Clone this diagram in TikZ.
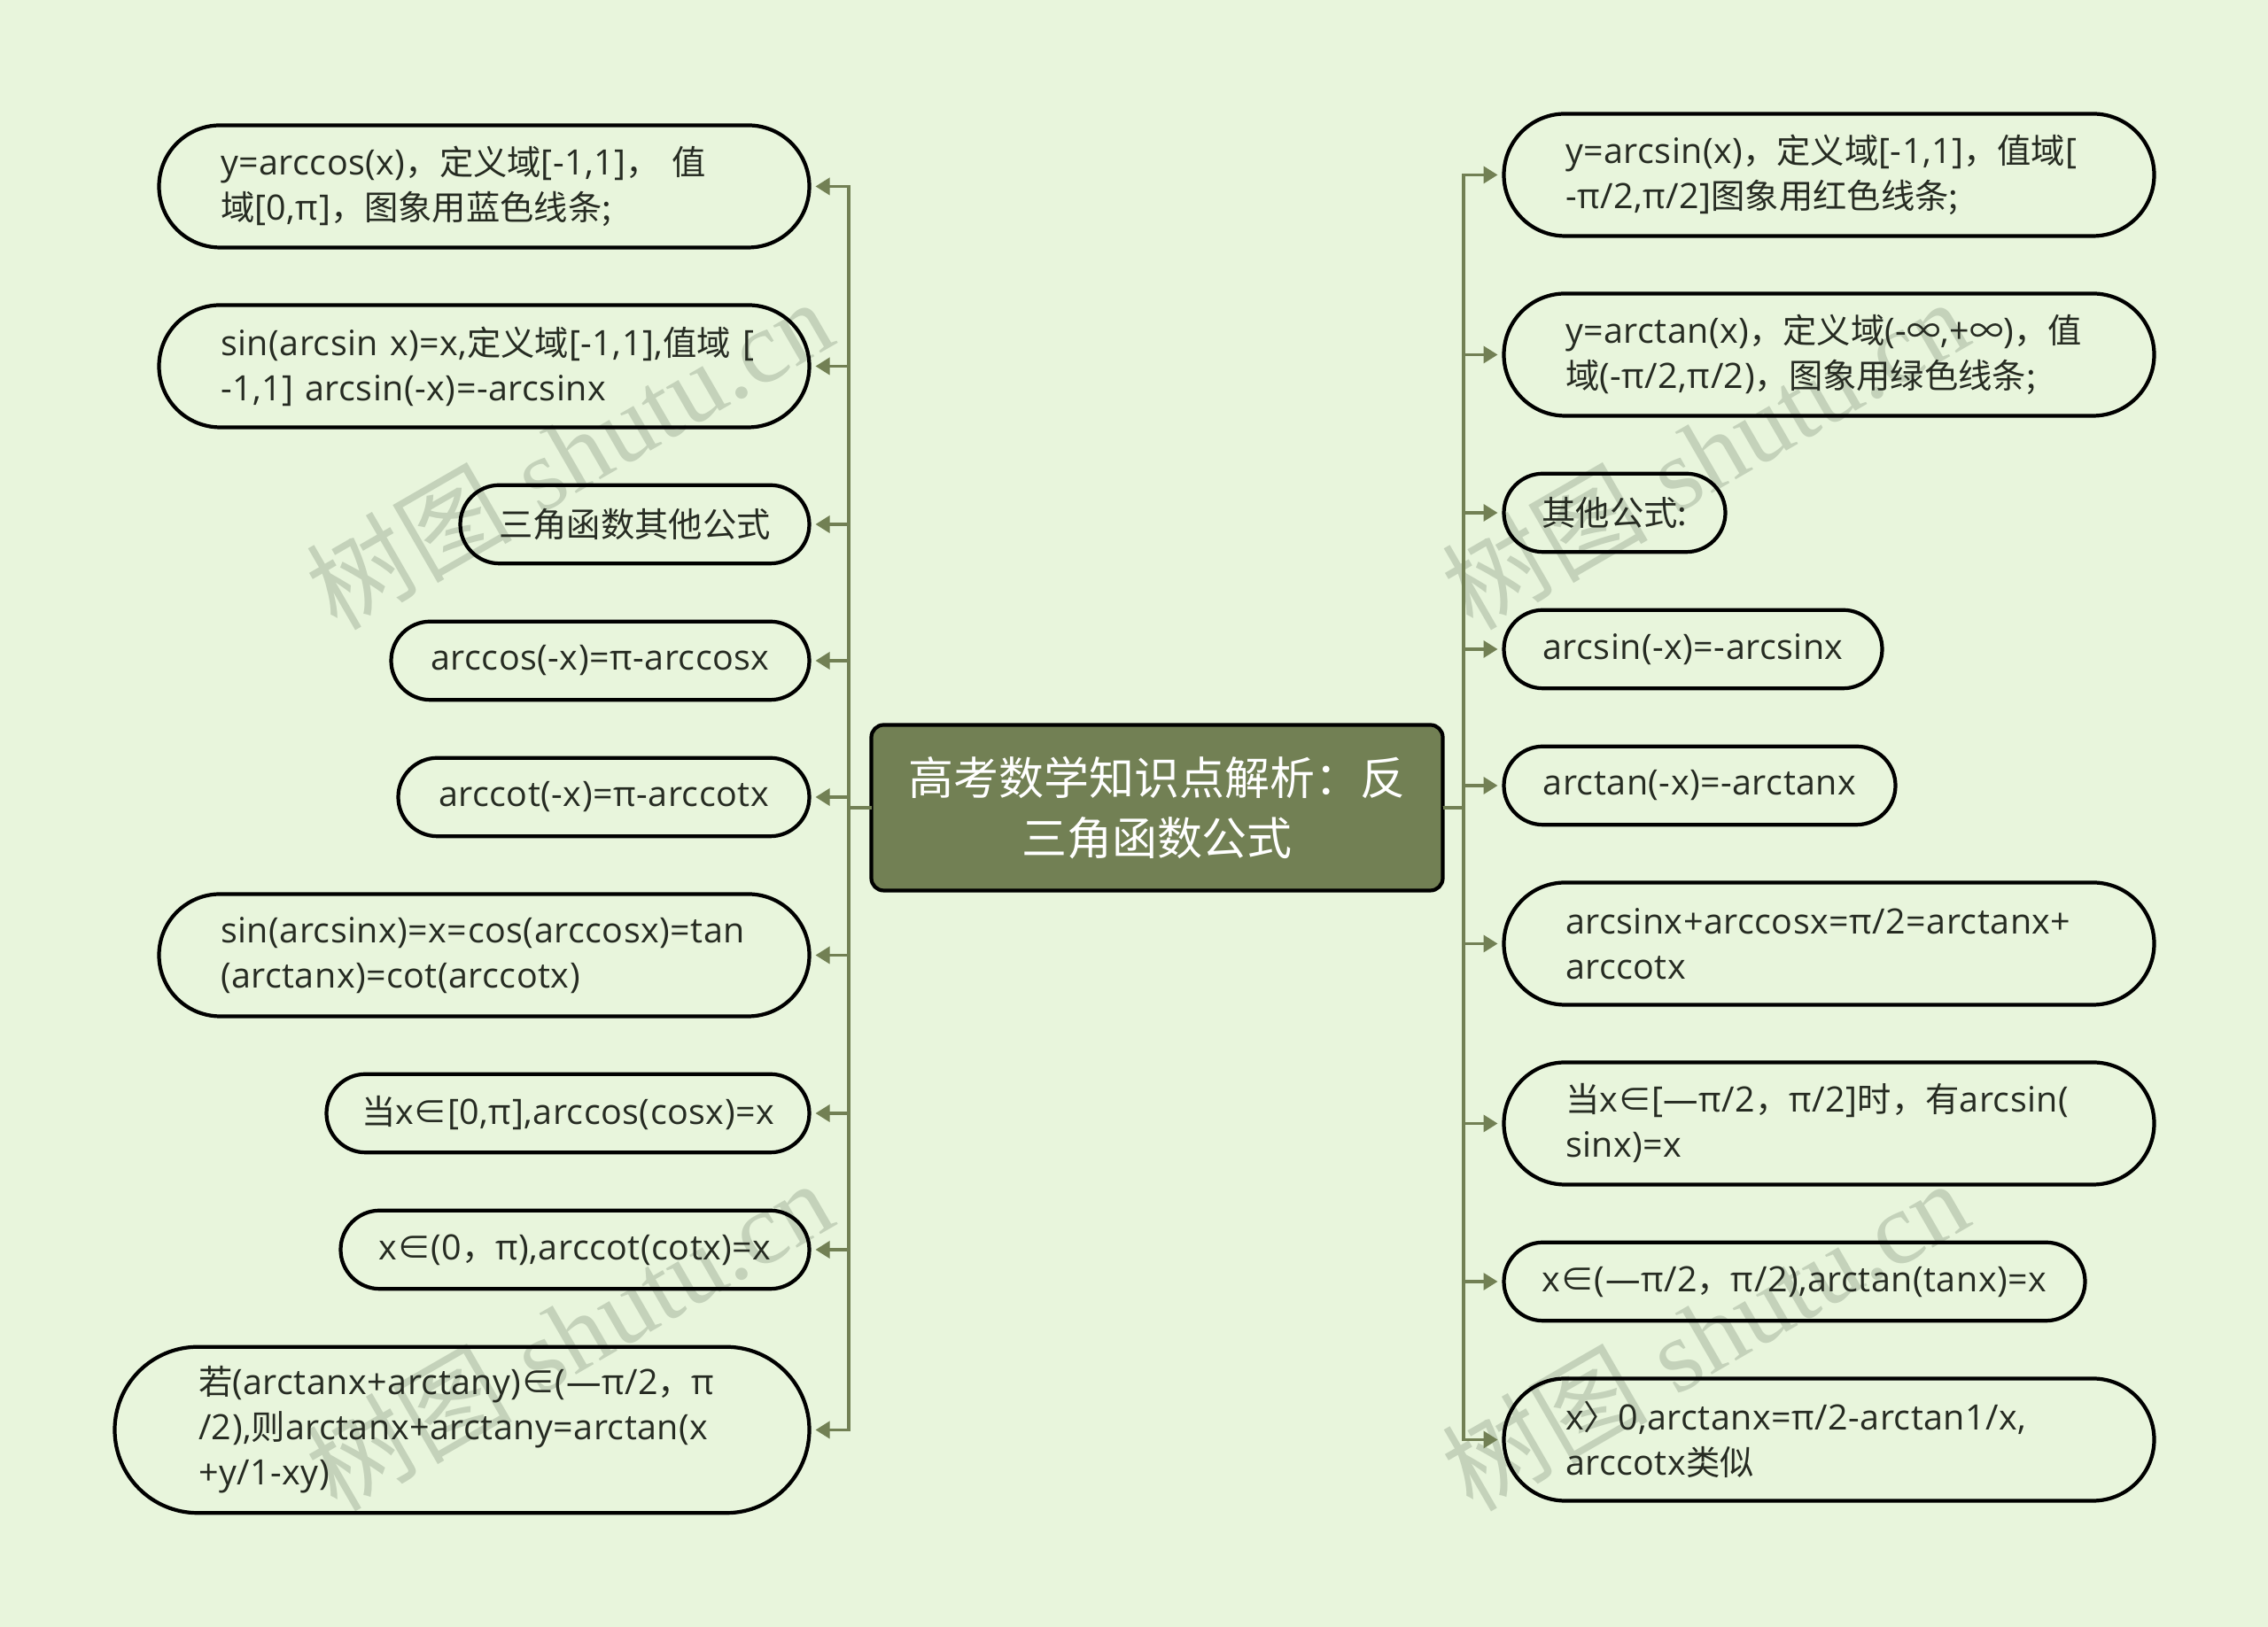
\documentclass[tikz,border=0pt]{standalone}
\usepackage{fontspec}
\usepackage{xcolor}
\usetikzlibrary{arrows.meta, positioning, shapes.misc}
\setmainfont[Scale=1.03, LetterSpace=1.2]{Open Sans}
\newfontfamily\cjk{Noto Sans CJK SC}
\newfontfamily\markfont{Liberation Serif}
\definecolor{paper}{HTML}{E8F5DC}
\definecolor{branch}{HTML}{728054}
\definecolor{inkdark}{HTML}{262B22}
\definecolor{stamp}{HTML}{C4D2BA}
\tikzstyle{topic} = [rectangle, rounded corners=0.14cm, minimum width=6.45cm, minimum height=1.87cm, align=center, draw=black, line width=1.2pt, fill=branch, text=white, outer sep=0pt, font={\fontsize{14.5pt}{19.5pt}\selectfont}]
\tikzstyle{leaf} = [rounded rectangle, inner xsep=0pt, inner ysep=0pt, minimum height=0.885cm, draw=black, line width=1.2pt, text=inkdark, outer sep=0pt, font={\fontsize{10.9pt}{14.5pt}\selectfont}]
\tikzstyle{wide} = [leaf, minimum width=7.34cm, minimum height=1.38cm, text width=5.95cm, align=left]
\tikzstyle{stampmark} = [rotate=30, text=stamp, font={\fontsize{33pt}{33pt}\selectfont}]
\tikzstyle{arrow} = [line width=1pt, branch, -{Triangle[length=0.16cm,width=0.19cm]}, shorten >=0.07cm]

\begin{document}
\begin{tikzpicture}
    \path [use as bounding box, fill=paper] (0,0) rectangle (25.6,18.37);

    \foreach \x/\y/\n in {6.42/13.25/a, 19.24/13.25/b, 6.42/3.30/c, 19.24/3.30/d}
        \node (stamp\n) [stampmark] at (\x,\y) {{\cjk 树图} {\markfont shutu.cn}};

    \node (title) [topic] at (13.06,9.25) {{\cjk 高考数学知识点解析：反}\\{\cjk 三角函数公式}};

    \coordinate (trunkl) at (9.58,9.25);
    \coordinate (trunkr) at (16.52,9.25);

    \node (arccos) [wide, anchor=east] at (9.135,16.265) {y=arccos(x){\cjk ，定义域}[-1,1]{\cjk ，\ 值}\\{\cjk 域}[0,π]{\cjk ，图象用蓝色线条}{\cjk ;}};
    \node (sinarc) [wide, anchor=east] at ([yshift=-2.03cm]arccos.east) {\mbox{sin(arcsin x)=x,{\cjk 定义域}[-1,1],{\cjk 值域} [}\\-1,1] arcsin(-x)=-arcsinx};
    \node (others) [leaf, minimum width=3.94cm, anchor=east] at ([yshift=-1.785cm]sinarc.east) {\cjk 三角函数其他公式};
    \node (negcos) [leaf, minimum width=4.72cm, anchor=east] at ([yshift=-1.54cm]others.east) {arccos(-x)=π-arccosx};
    \node (negcot) [leaf, minimum width=4.64cm, anchor=east] at ([yshift=-1.54cm]negcos.east) {arccot(-x)=π-arccotx};
    \node (chain) [wide, anchor=east] at ([yshift=-1.785cm]negcot.east) {sin(arcsinx)=x=cos(arccosx)=tan\\(arctanx)=cot(arccotx)};
    \node (coscos) [leaf, minimum width=5.45cm, anchor=east] at ([yshift=-1.785cm]chain.east) {{\cjk 当}x{\cjk ∈}[0,π],arccos(cosx)=x};
    \node (cotcot) [leaf, minimum width=5.29cm, anchor=east] at ([yshift=-1.54cm]coscos.east) {x{\cjk ∈}(0{\cjk ，}π),arccot(cotx)=x};
    \node (sumtan) [wide, minimum width=7.84cm, minimum height=1.875cm, anchor=east] at ([yshift=-2.035cm]cotcot.east) {{\cjk 若}(arctanx+arctany){\cjk ∈}(—π/2{\cjk ，}π\\/2),{\cjk 则}arctanx+arctany=arctan(x\\+y/1-xy)};

    \node (arcsin) [wide, anchor=west] at (16.975,16.395) {y=arcsin(x){\cjk ，定义域}[-1,1]{\cjk ，值域}[\\-π/2,π/2]{\cjk 图象用红色线条;}};
    \node (arctan) [wide, anchor=west] at ([yshift=-2.03cm]arcsin.west) {y=arctan(x){\cjk ，定义域}(-{\cjk ∞},+{\cjk ∞}){\cjk ，值}\\{\cjk 域}(-π/2,π/2){\cjk ，图象用绿色线条;}};
    \node (formula) [leaf, minimum width=2.50cm, anchor=west] at ([yshift=-1.785cm]arctan.west) {\cjk 其他公式:};
    \node (negsin) [leaf, minimum width=4.27cm, anchor=west] at ([yshift=-1.54cm]formula.west) {arcsin(-x)=-arcsinx};
    \node (negtan) [leaf, minimum width=4.42cm, anchor=west] at ([yshift=-1.54cm]negsin.west) {arctan(-x)=-arctanx};
    \node (identity) [wide, anchor=west] at ([yshift=-1.785cm]negtan.west) {arcsinx+arccosx=π/2=arctanx+\\arccotx};
    \node (sinsin) [wide, anchor=west] at ([yshift=-2.03cm]identity.west) {{\cjk 当}x{\cjk ∈}[—π/2{\cjk ，}π/2]{\cjk 时，有}arcsin(\\sinx)=x};
    \node (tantan) [leaf, minimum width=6.56cm, anchor=west] at ([yshift=-1.785cm]sinsin.west) {x{\cjk ∈}(—π/2{\cjk ，}π/2),arctan(tanx)=x};
    \node (inverse) [wide, anchor=west] at ([yshift=-1.785cm]tantan.west) {x{\cjk 〉}0,arctanx=π/2-arctan1/x,\\arccotx{\cjk 类似}};

    \foreach \n in {arccos, sinarc, others, negcos, negcot, chain, coscos, cotcot, sumtan}
        \draw [arrow] (title.west) -- (trunkl) |- (\n);
    \foreach \n in {arcsin, arctan, formula, negsin, negtan, identity, sinsin, tantan, inverse}
        \draw [arrow] (title.east) -- (trunkr) |- (\n);
\end{tikzpicture}
\end{document}
